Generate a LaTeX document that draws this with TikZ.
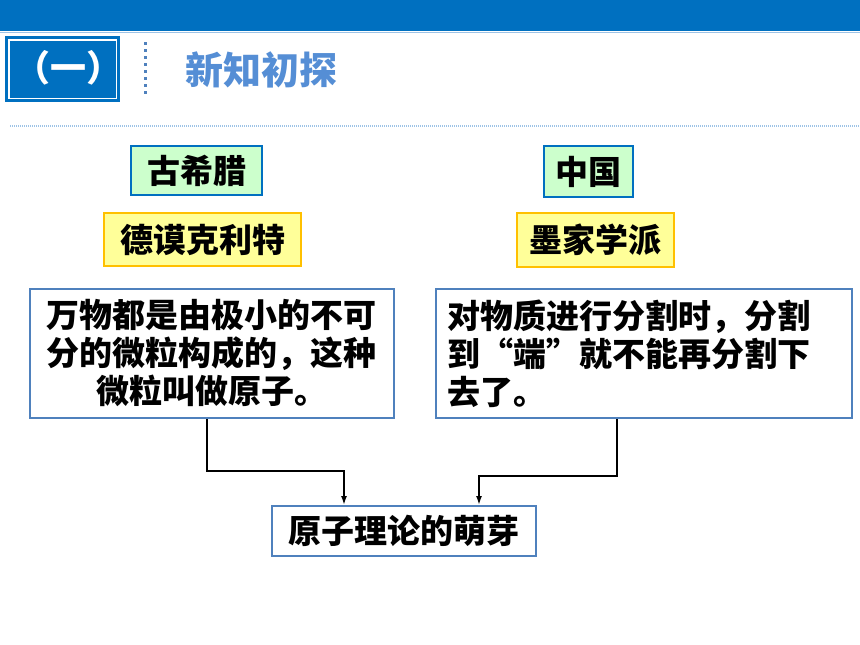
\documentclass[tikz,border=0pt]{standalone}
\usepackage{fontspec}
\newfontfamily\cjk{Noto Sans CJK SC}
\usetikzlibrary{positioning, arrows.meta}

\definecolor{barblue}{HTML}{0070C0}
\definecolor{titleblue}{HTML}{558ED5}
\definecolor{frameblue}{HTML}{4F81BD}
\definecolor{dotblue}{HTML}{9DC3E6}
\definecolor{placegreen}{HTML}{CCFFCC}
\definecolor{nameyellow}{HTML}{FFFF99}
\definecolor{nameorange}{HTML}{FFC000}

\begin{document}
\begin{tikzpicture}[
        x=1pt, y=-1pt,
        node distance=16pt,
        bigtext/.style={font=\cjk\bfseries\fontsize{33}{38}\selectfont},
        place/.style={rectangle, draw=barblue, line width=2pt, fill=placegreen, inner sep=0pt, text centered, bigtext},
        person/.style={rectangle, draw=nameorange, line width=2pt, fill=nameyellow, inner sep=0pt, text centered, bigtext},
        idea/.style={rectangle, draw=frameblue, line width=2pt, fill=white, inner sep=0pt, minimum height=129pt, bigtext},
        line/.style={draw, -{Latex[length=9pt, width=6pt]}, line width=1.6pt, black}
    ]
        \useasboundingbox (0,0) rectangle (860,645);
        \fill[white] (0,0) rectangle (860,645);

        % Header
        \fill[barblue] (0,0) rectangle (860,31);
        \draw[dotblue, line width=1pt] (0,32.5) -- (860,32.5);
        \node [rectangle, fill=barblue, draw=barblue, line width=1.5pt, minimum width=113pt, minimum height=64pt, inner sep=0pt] (num) at (62.5,69) {};
        \draw[white, line width=1.5pt] ([shift={(3.5,3.5)}]num.north west) rectangle ([shift={(-3.5,-3.5)}]num.south east);
        \node [text=white, font=\cjk\bfseries\fontsize{36}{38}\selectfont] (numtxt) at (69,68) {（一）};
        \draw[frameblue, line width=3pt, dash pattern=on 3pt off 4pt] (145,42) -- (145,96);
        \node [anchor=west, text=titleblue, font=\cjk\bfseries\fontsize{38}{40}\selectfont] (title) at (182,70) {新知初探};
        \draw[dotblue, line width=1.5pt, dash pattern=on 1pt off 1pt] (10,126) -- (860,126);

        % Nodes
        \node [place, minimum width=131pt, minimum height=49pt] (greece) at (196.5,170.5) {古希腊};
        \node [person, minimum width=197pt, minimum height=53pt, below=of greece, xshift=6pt] (democ) {德谟克利特};
        \node [idea, text width=364pt, align=center, below=21pt of democ, xshift=9.5pt] (atomtxt) {万物都是由极小的不可\\分的微粒构成的，这种\\微粒叫做原子。};
        \node [place, minimum width=89pt, minimum height=51pt] (china) at (588.5,171.5) {中国};
        \node [person, minimum width=157pt, minimum height=54pt, below=14pt of china, xshift=7pt] (mohist) {墨家学派};
        \node [idea, text width=394pt, inner xsep=11pt, align=left, below=20pt of mohist, xshift=48.5pt] (duantxt) {对物质进行分割时，分割\\到“端”就不能再分割下\\去了。};
        \node [rectangle, draw=frameblue, line width=2pt, minimum width=264pt, minimum height=50pt, inner sep=0pt, bigtext] (sprout) at (404,531) {原子理论的萌芽};

        % Edges
        \path [line] ([xshift=-5pt]atomtxt.south) -- ++(0,52) -| ([xshift=-60pt]sprout.north);
        \path [line] ([xshift=-27pt]duantxt.south) -- ++(0,57) -| ([xshift=75pt]sprout.north);
    \end{tikzpicture}
\end{document}
